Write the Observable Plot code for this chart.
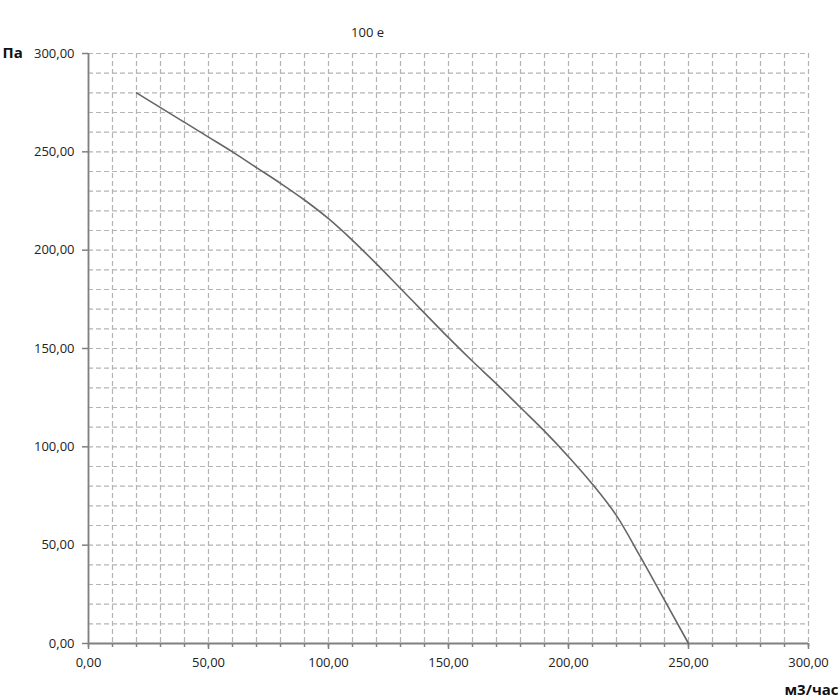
<!DOCTYPE html>
<html>
<head>
<meta charset="utf-8">
<script src="https://cdn.jsdelivr.net/npm/d3@7"></script>
<script src="https://cdn.jsdelivr.net/npm/@observablehq/plot@0.6"></script>
<style>
  body { margin: 0; background: #fff; }
  #chart svg { display: block; }
</style>
</head>
<body>
<div id="chart"></div>
<script>
// Flow (м3/час) and pressure (Па)
const flow = [20, 30, 40, 50, 60, 70, 80, 90, 100, 110, 120, 130, 140, 150, 160, 170, 180, 190, 200, 210, 220, 230, 240, 250];
const pressure = [280, 272.5, 265, 257.5, 250, 242, 234, 225.5, 216, 205, 193, 180.5, 168, 155.5, 143.5, 132, 120, 108, 95, 81, 65, 44, 22, 0];

const xTicks = [0, 50, 100, 150, 200, 250, 300];
const xTickLabels = ["0,00", "50,00", "100,00", "150,00", "200,00", "250,00", "300,00"];
const yTicks = [0, 50, 100, 150, 200, 250, 300];
const yTickLabels = ["0,00", "50,00", "100,00", "150,00", "200,00", "250,00", "300,00"];
const gridStep = [0, 10, 20, 30, 40, 50, 60, 70, 80, 90, 100, 110, 120, 130, 140, 150, 160, 170, 180, 190, 200, 210, 220, 230, 240, 250, 260, 270, 280, 290, 300];

const title = "100 е";
const yLabel = "Па";
const xLabel = "м3/час";

const data = flow.map((f, i) => ({flow: f, pressure: pressure[i]}));

const chart = Plot.plot({
  width: 840,
  height: 700,
  marginLeft: 88,
  marginRight: 32,
  marginTop: 53,
  marginBottom: 57,
  style: {fontFamily: "'Open Sans', sans-serif", fontSize: "13px", color: "#222", background: "#fff"},
  x: {domain: [0, 300], label: null},
  y: {domain: [0, 300], label: null},
  marks: [
    Plot.gridX(gridStep, {stroke: "#b4b4b4", strokeOpacity: 1, strokeWidth: 1.2, strokeDasharray: "5,3"}),
    Plot.gridY(gridStep, {stroke: "#b4b4b4", strokeOpacity: 1, strokeWidth: 1.2, strokeDasharray: "5,3"}),
    Plot.axisX(gridStep, {tickSize: 4, tickFormat: () => "", stroke: "#808080", strokeWidth: 1.5, label: null}),
    Plot.axisX(xTicks, {tickSize: 6, tickPadding: 8, tickFormat: (d) => xTickLabels[xTicks.indexOf(d)], stroke: "#808080", strokeWidth: 1.5, fill: "#222", label: null}),
    Plot.axisY(yTicks, {tickSize: 6, tickPadding: 8, tickFormat: (d) => yTickLabels[yTicks.indexOf(d)], stroke: "#808080", strokeWidth: 1.5, fill: "#222", label: null}),
    Plot.ruleX([0], {stroke: "#808080", strokeWidth: 1.8}),
    Plot.ruleY([0], {stroke: "#808080", strokeWidth: 1.8}),
    Plot.line(data, {x: "flow", y: "pressure", stroke: "#666", strokeWidth: 1.6, curve: "monotone-x"}),
    Plot.text([title], {frameAnchor: "top", lineAnchor: "middle", dx: -81, dy: -21, fontSize: 13, fill: "#222"}),
    Plot.text([yLabel], {frameAnchor: "top-left", lineAnchor: "middle", dx: -86, dy: 0, textAnchor: "start", fontSize: 15, fontWeight: "bold", fill: "#111"}),
    Plot.text([xLabel], {frameAnchor: "bottom-right", lineAnchor: "middle", dx: 30, dy: 47, textAnchor: "end", fontSize: 15, fontWeight: "bold", fill: "#111"})
  ]
});
document.getElementById("chart").appendChild(chart);
</script>
</body>
</html>
